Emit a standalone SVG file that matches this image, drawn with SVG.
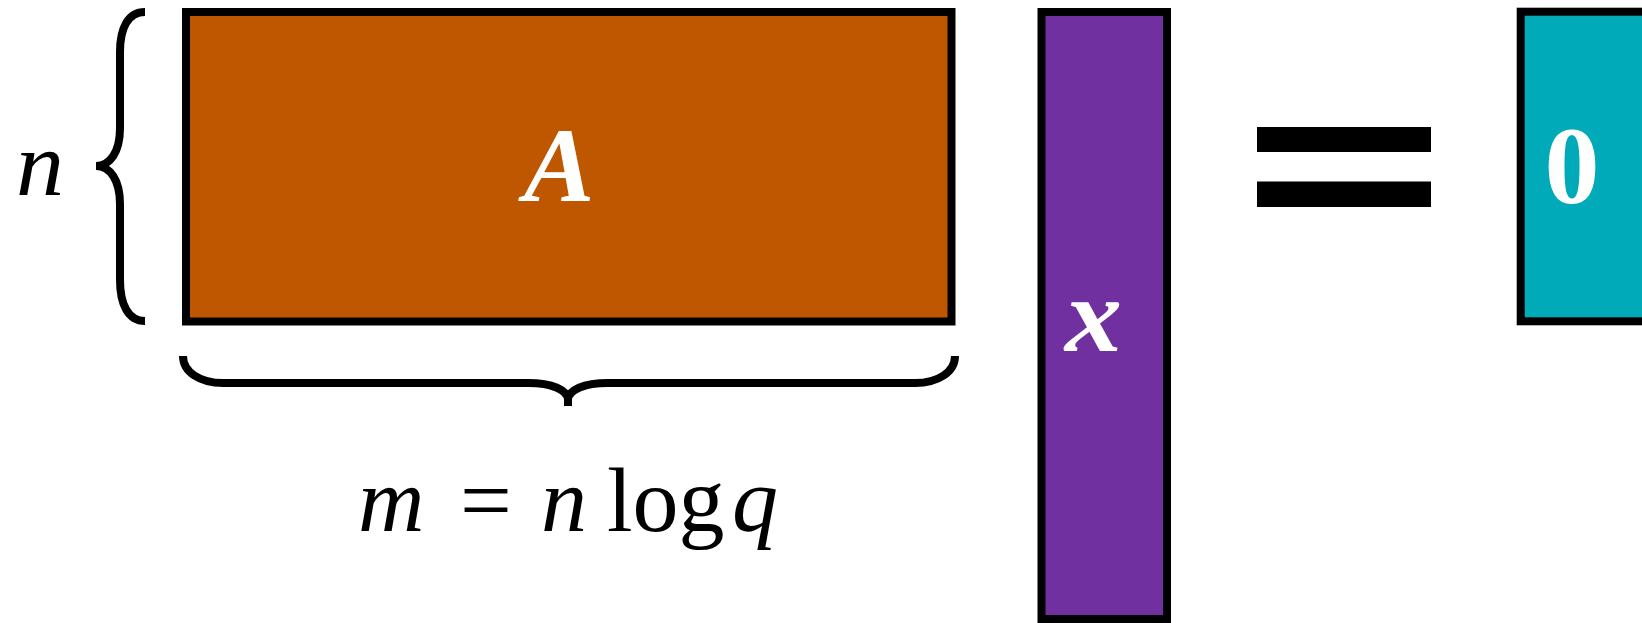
<svg xmlns="http://www.w3.org/2000/svg" width="1642" height="623" viewBox="0 0 1642 623">
<style>
.box{stroke:#000;stroke-width:8}
.brace{fill:none;stroke:#000;stroke-width:8}
.t{font-family:"Liberation Serif","Times New Roman",serif}
.w{fill:#fff;font-weight:bold}
.it{font-style:italic}
</style>
<rect width="1642" height="623" fill="#fff"/>
<g id="matrixA">
<rect class="box" x="186" y="12" width="765.5" height="309.5" fill="#BF5700"/>
<text class="t w it" x="559" y="201" font-size="106" text-anchor="middle">A</text>
</g>
<g id="vectorX">
<rect class="box" x="1041.5" y="12" width="125.5" height="607" fill="#7030A0"/>
<text class="t w it" x="1065" y="351" font-size="106" textLength="57" lengthAdjust="spacingAndGlyphs">x</text>
</g>
<g id="equals">
<rect x="1257" y="127" width="174" height="25" fill="#000"/>
<rect x="1257" y="181.5" width="174" height="25.5" fill="#000"/>
</g>
<g id="zero">
<rect class="box" x="1520.7" y="11.7" width="200" height="309.6" fill="#00AAB8"/>
<text class="t w" x="1572" y="203" font-size="110" text-anchor="middle">0</text>
</g>
<g id="braces">
<path class="brace" d="M 145 12 C 128 12, 120 28, 120 52 L 120 128 C 120 152, 110 166, 96 166 C 110 166, 120 180, 120 204 L 120 280 C 120 304, 128 321, 145 321"/>
<path class="brace" d="M 183 356 C 183 372, 200 383, 223 383 L 528 383 C 552 383, 568 390, 568 400 L 568 406 M 568 400 C 568 390, 584 383, 608 383 L 915 383 C 938 383, 955 372, 955 356"/>
</g>
<g id="labels">
<text class="t it" x="16" y="195" font-size="92" textLength="48" lengthAdjust="spacingAndGlyphs">n</text>
<text class="t" y="531" font-size="92"><tspan class="it" x="358">m</tspan><tspan x="460">=</tspan><tspan class="it" x="541">n</tspan><tspan x="607">log</tspan><tspan class="it" x="732">q</tspan></text>
</g>
</svg>
